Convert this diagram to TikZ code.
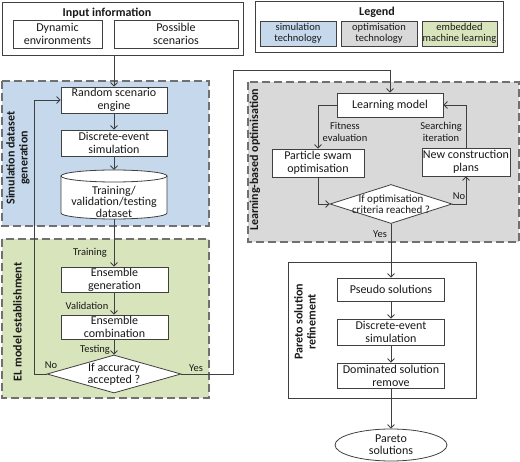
\documentclass[tikz,border=0pt]{standalone}
\usepackage{fontspec}
\setmainfont{Carlito}
\usetikzlibrary{arrows.meta,shapes.geometric}

\definecolor{simblue}{RGB}{198,217,236}
\definecolor{optgray}{RGB}{217,217,217}
\definecolor{embgreen}{RGB}{216,228,188}
\definecolor{edgegray}{RGB}{64,64,64}
\definecolor{dashgray}{RGB}{112,112,112}

\tikzset{
  block/.style={draw=edgegray, line width=0.8pt, fill=white, inner sep=0pt, align=center, text=black!90, font=\fontsize{12}{13}\selectfont},
  frame/.style={draw=edgegray, line width=0.8pt, inner sep=0pt},
  zone/.style={draw=dashgray, line width=1.2pt, dash pattern=on 8pt off 4pt},
  zonetitle/.style={rotate=90, align=center, text=black!90, font=\bfseries\fontsize{12}{13}\selectfont},
  title/.style={text=black!90, font=\bfseries\fontsize{12}{13}\selectfont},
  note/.style={align=center, text=black!90, font=\fontsize{10.5}{11.5}\selectfont},
  flow/.style={draw=edgegray, line width=0.8pt, -{Straight Barb[length=3.5pt,width=7pt]}},
  decide/.style={diamond, draw=edgegray, line width=0.8pt, fill=white, inner sep=0pt},
}

\begin{document}
\begin{tikzpicture}[x=1pt,y=-1pt]
    \useasboundingbox (0,0) rectangle (520,462);

    % zonas de fondo
    \filldraw[zone, fill=simblue] (2,81) rectangle (209,226);
    \filldraw[zone, fill=embgreen] (2,239) rectangle (209,398);
    \filldraw[zone, fill=optgray] (248,82) rectangle (519,242);
    \draw[frame] (288,262) rectangle (476,398);

    % input information
    \node[frame, minimum width=241pt, minimum height=53pt] (input) at (122.5,28.5) {};
    \node[title] (input-title) at (107,13) {Input information};
    \node[block, minimum width=89pt, minimum height=28pt] (dyn) at (57.5,34) {Dynamic\\environments};
    \node[block, minimum width=124pt, minimum height=28pt] (poss) at (176,34) {Possible\\scenarios};

    % legend
    \node[frame, minimum width=248pt, minimum height=51pt] (legend) at (379,26.5) {};
    \node[title] (legend-title) at (377,12) {Legend};
    \node[block, note, fill=simblue, minimum width=76pt, minimum height=25pt] (leg-sim) at (298,33.5) {simulation\\technology};
    \node[block, note, fill=optgray, minimum width=76pt, minimum height=25pt] (leg-opt) at (379,33.5) {optimisation\\technology};
    \node[block, note, fill=embgreen, minimum width=75pt, minimum height=25pt] (leg-eml) at (459.5,33.5) {embedded\\machine learning};

    % simulation dataset generation
    \coordinate (spine) at (114,0);
    \node[block, minimum width=106pt, minimum height=26pt] (rse) at (114,100) {Random scenario\\engine};
    \node[block, minimum width=106pt, minimum height=26pt] (des) at (114,143) {Discrete-event\\simulation};
    \node[minimum width=106pt, minimum height=49pt, inner sep=0pt] (data) at (114,194.5) {};
    \filldraw[fill=white, draw=edgegray, line width=0.8pt] (61,176) -- (61,213) arc[start angle=180, end angle=360, x radius=53pt, y radius=6pt] -- (167,176);
    \filldraw[fill=white, draw=edgegray, line width=0.8pt] (114,176) ellipse [x radius=53pt, y radius=6pt];
    \node[block, draw=none, fill=none, font=\fontsize{12}{11.5}\selectfont] (data-text) at (114,201.5) {Training/\\validation/testing\\dataset};

    % EL model establishment
    \node[block, minimum width=107pt, minimum height=25pt] (ensgen) at (114.5,279.5) {Ensemble\\generation};
    \node[block, minimum width=107pt, minimum height=24pt] (enscomb) at (114.5,327) {Ensemble\\combination};
    \node[decide, minimum width=134pt, minimum height=38pt] (acc) at (114,374) {};
    \node[block, draw=none, fill=none, font=\fontsize{12}{12}\selectfont] (acc-text) at (114,374) {If accuracy\\accepted ?};

    % learning-based optimisation
    \node[block, minimum width=106pt, minimum height=24pt] (learn) at (390,105) {Learning model};
    \node[block, minimum width=92pt, minimum height=28pt] (pso) at (318,163) {Particle swam\\optimisation};
    \node[block, minimum width=88pt, minimum height=28pt] (ncp) at (466,162) {New construction\\plans};
    \node[decide, minimum width=122pt, minimum height=39pt] (opt) at (391,204) {};
    \node[block, draw=none, fill=none, font=\fontsize{11}{11}\selectfont] (opt-text) at (391,204) {If optimisation\\criteria reached ?};

    % pareto solution refinement
    \node[block, minimum width=107pt, minimum height=23pt] (pseudo) at (391,289.5) {Pseudo solutions};
    \node[block, minimum width=107pt, minimum height=26pt] (des2) at (391,332) {Discrete-event\\simulation};
    \node[block, minimum width=107pt, minimum height=25pt] (dom) at (391,375.5) {Dominated solution\\remove};
    \node[block, ellipse, minimum width=112pt, minimum height=32pt, font=\fontsize{12}{12}\selectfont] (pareto) at (391,445) {Pareto\\solutions};

    % titulos de zonas
    \node[zonetitle] (sim-title) at (18,158) {Simulation dataset\\generation};
    \node[zonetitle] (el-title) at (17.5,322) {EL model establishment};
    \node[zonetitle] (lbo-title) at (255,160) {Learning-based optimisation};
    \node[zonetitle] (pareto-title) at (305,322) {Pareto solution\\refinement};

    % flechas lado izquierdo
    \coordinate (yesup) at (233,70);
    \draw[flow] (input.south -| spine) -- (spine |- rse.north);
    \draw[flow] (spine |- rse.south) -- (spine |- des.north);
    \draw[flow] (spine |- des.south) -- (spine |- data.north);
    \draw[flow] (spine |- data.south) -- (spine |- ensgen.north);
    \draw[flow] (spine |- ensgen.south) -- (spine |- enscomb.north);
    \draw[flow] (spine |- enscomb.south) -- (acc.north);
    \draw[flow] (acc.west) -- ++(-12,0) |- (rse.west);
    \draw[flow] (acc.east) -| (yesup) -| (learn.north);

    % flechas lado derecho
    \draw[flow] (learn.west) -| (pso.north);
    \draw[flow] (pso.south) |- (opt.west);
    \draw[flow] (opt.east) -| (ncp.south);
    \draw[flow] (ncp.north) |- (learn.east);
    \draw[flow] (opt.south) -- (pseudo.north);
    \draw[flow] (pseudo.south) -- (des2.north);
    \draw[flow] (des2.south) -- (dom.north);
    \draw[flow] (dom.south) -- (pareto.north);

    % leyendas
    \node[note] (lab-train) at (90,253) {Training};
    \node[note] (lab-valid) at (87,306) {Validation};
    \node[note] (lab-test) at (95,349.5) {Testing};
    \node[note] (lab-no1) at (51,365) {No};
    \node[note] (lab-yes1) at (196,368) {Yes};
    \node[note] (lab-fit) at (345,132) {Fitness\\evaluation};
    \node[note] (lab-search) at (441,132) {Searching\\iteration};
    \node[note] (lab-no2) at (459,196) {No};
    \node[note] (lab-yes2) at (380,234) {Yes};

\end{tikzpicture}
\end{document}
